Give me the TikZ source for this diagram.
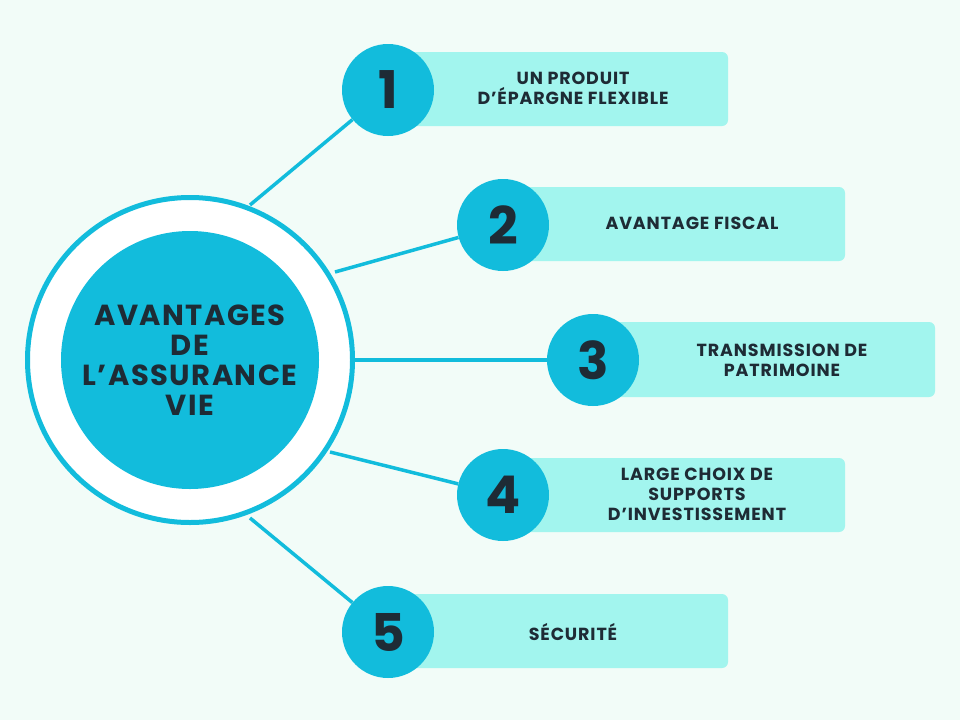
\documentclass[tikz,border=0pt]{standalone}
\usepackage{fontspec}
\setmainfont{Poppins}[LetterSpace=5]
\definecolor{bg}{HTML}{F2FCF8}
\definecolor{cy}{HTML}{12BCDC}
\definecolor{lc}{HTML}{A2F5EE}
\definecolor{tx}{HTML}{1E2B35}
\begin{document}
\begin{tikzpicture}[x=1pt,y=-1pt,
  numc/.style={circle,fill=cy,minimum size=92pt,inner sep=0pt,text=tx,font=\fontsize{52}{52}\selectfont\bfseries},
  bar/.style={fill=lc,rounded corners=6pt},
  lbl/.style={text=tx,align=center,font=\fontsize{17.5}{20}\selectfont\bfseries},
  conn/.style={draw=cy,line width=3.5pt}]
\fill[bg] (0,0) rectangle (960,720);
\useasboundingbox (0,0) rectangle (960,720);
\coordinate (s1) at (250,205); \coordinate (s2) at (335,272); \coordinate (s3) at (355,360);
\coordinate (s4) at (330,452); \coordinate (s5) at (250,518);
\fill[bar] (405,52) rectangle (728,126);
\fill[bar] (520,187) rectangle (845,261);
\fill[bar] (610,322) rectangle (935,397);
\fill[bar] (520,458) rectangle (845,532);
\fill[bar] (405,594) rectangle (728,668);
\node[numc] (n1) at (388,90) {1};
\node[numc] (n2) at (503,225) {2};
\node[numc] (n3) at (593,360) {3};
\node[numc] (n4) at (503,495) {4};
\node[numc] (n5) at (388,632) {5};
\draw[conn] (s1) -- (n1); \draw[conn] (s2) -- (n2); \draw[conn] (s3) -- (n3);
\draw[conn] (s4) -- (n4); \draw[conn] (s5) -- (n5);
\node[circle,draw=cy,line width=5pt,fill=white,minimum size=325pt] (ring) at (190,360) {};
\node[circle,fill=cy,minimum size=258pt,inner sep=0pt,text=tx,align=center,font=\fontsize{29}{30}\selectfont\bfseries] (c) at (190,360) {AVANTAGES\\DE\\L’ASSURANCE\\VIE};
\node[lbl] (t1) at (573,88) {UN PRODUIT\\D'ÉPARGNE FLEXIBLE};
\node[lbl] (t2) at (692,223) {AVANTAGE FISCAL};
\node[lbl] (t3) at (782,360) {TRANSMISSION DE\\PATRIMOINE};
\node[lbl] (t4) at (697,494) {LARGE CHOIX DE\\SUPPORTS\\D'INVESTISSEMENT};
\node[lbl] (t5) at (573,632) {SÉCURITÉ};
\end{tikzpicture}
\end{document}
